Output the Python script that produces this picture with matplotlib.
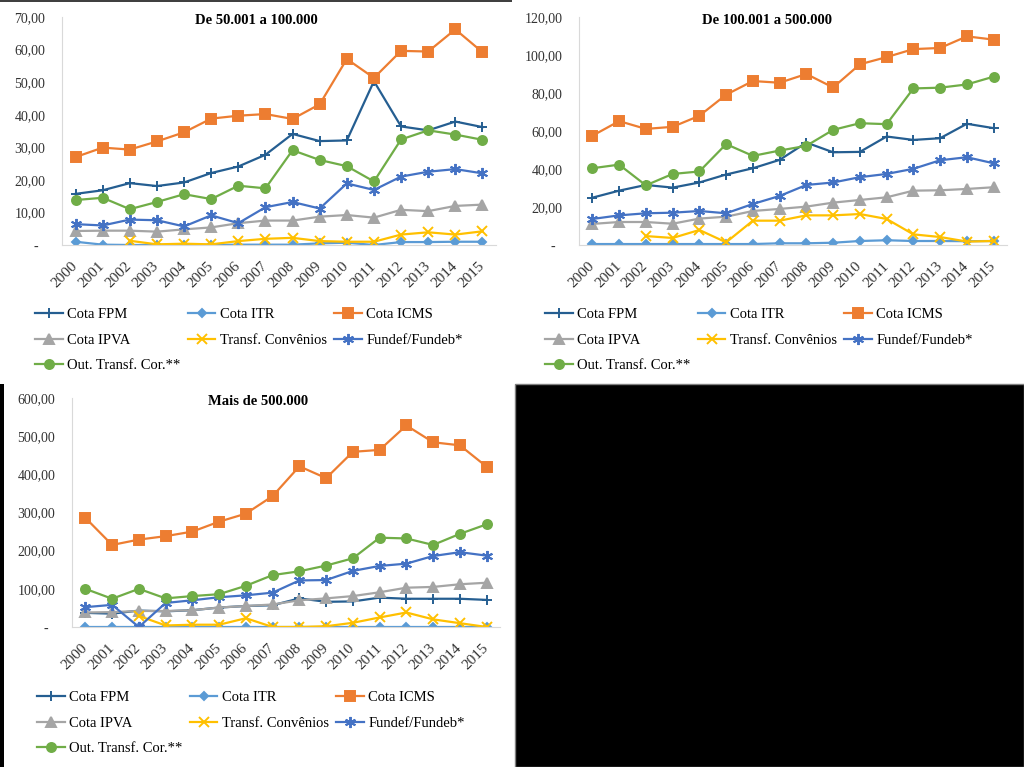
import numpy as np
import matplotlib
matplotlib.use('Agg')
import matplotlib.pyplot as plt
from matplotlib.patches import Rectangle

plt.rcParams['font.family'] = ['Liberation Serif', 'DejaVu Serif']

nan = np.nan
anos = ["2000", "2001", "2002", "2003", "2004", "2005", "2006", "2007",
        "2008", "2009", "2010", "2011", "2012", "2013", "2014", "2015"]

# --- De 50.001 a 100.000 ---
fpm_1 = [15.7, 16.8, 19.0, 18.1, 19.2, 22.1, 24.1, 27.7, 34.1, 31.9, 32.1, 50.3, 36.4, 35.2, 37.9, 36.2]
itr_1 = [1.0, 0.1, 0.0, 0.0, 0.0, 0.0, 0.1, 0.1, 0.1, 0.5, 0.7, 0.0, 0.9, 0.9, 1.0, 1.0]
icms_1 = [27.0, 29.9, 29.3, 31.8, 34.6, 38.8, 39.7, 40.2, 38.7, 43.2, 57.1, 51.3, 59.6, 59.4, 66.2, 59.2]
ipva_1 = [4.3, 4.4, 4.4, 4.1, 4.8, 5.4, 6.7, 7.5, 7.5, 8.7, 9.2, 8.4, 10.8, 10.4, 12.0, 12.4]
conv_1 = [nan, nan, 1.3, 0.2, 0.4, 0.2, 1.2, 1.9, 2.2, 1.2, 1.0, 1.0, 3.2, 3.9, 3.2, 4.2]
fundeb_1 = [6.4, 6.0, 7.8, 7.6, 5.7, 9.1, 6.7, 11.6, 13.2, 11.2, 18.9, 16.9, 21.0, 22.5, 23.3, 22.0]
outras_1 = [13.8, 14.5, 11.0, 13.2, 15.6, 14.1, 18.2, 17.4, 29.1, 26.1, 24.2, 19.5, 32.4, 35.2, 33.9, 32.3]

# --- De 100.001 a 500.000 ---
fpm_2 = [24.9, 28.6, 31.6, 30.2, 32.9, 37.1, 40.4, 44.8, 53.9, 48.8, 49.0, 57.1, 55.3, 56.2, 63.8, 61.5]
itr_2 = [0.5, 0.5, 0.5, 0.5, 0.5, 0.5, 0.5, 0.9, 0.9, 1.2, 2.1, 2.5, 2.1, 2.1, 2.0, 2.1]
icms_2 = [57.5, 65.2, 61.1, 62.2, 68.0, 79.1, 86.3, 85.4, 90.0, 82.9, 95.1, 98.9, 103.1, 103.7, 109.8, 108.1]
ipva_2 = [11.1, 12.1, 12.1, 11.2, 13.9, 14.9, 17.9, 19.0, 20.2, 22.3, 23.7, 25.1, 28.6, 28.8, 29.5, 30.4]
conv_2 = [nan, nan, 4.7, 3.7, 7.9, 1.4, 12.8, 12.8, 15.6, 15.6, 16.3, 13.7, 5.6, 4.2, 1.8, 2.1]
fundeb_2 = [13.7, 15.6, 16.7, 17.0, 17.9, 16.7, 21.6, 25.8, 31.6, 32.9, 35.7, 37.4, 40.1, 44.6, 46.2, 43.0]
outras_2 = [40.4, 42.3, 31.4, 37.4, 38.7, 53.1, 46.9, 49.7, 52.2, 60.6, 64.1, 63.6, 82.4, 82.8, 84.5, 88.6]

# --- Mais de 500.000 ---
fpm_3 = [37, 35, 43, 41, 44, 51, 55, 57, 75, 66, 67, 77, 74, 74, 74, 71]
itr_3 = [0.8, 0.8, 0.8, 0.8, 0.8, 0.8, 0.8, 0.8, 0.8, 0.8, 0.8, 0.8, 0.8, 0.8, 0.8, 0.8]
icms_3 = [286, 215, 229, 238, 250, 276, 297, 343, 421, 390, 459, 464, 528, 484, 476, 420]
ipva_3 = [38, 39, 42, 42, 44, 51, 55, 59, 70, 75, 81, 91, 103, 105, 112, 116]
conv_3 = [nan, nan, 29, 4, 6, 6, 23, 0, 0, 2, 11, 25, 38, 20, 10, 0]
fundeb_3 = [52, 58, 0, 63, 70, 78, 83, 90, 122, 123, 147, 160, 166, 186, 196, 187]
outras_3 = [100, 74, 100, 75, 81, 86, 108, 136, 146, 161, 180, 234, 232, 215, 244, 269]

rotulos = ["Cota FPM", "Cota ITR", "Cota ICMS", "Cota IPVA",
           "Transf. Convênios", "Fundef/Fundeb*", "Out. Transf. Cor.**"]
cores = ["#255E91", "#5B9BD5", "#ED7D31", "#A5A5A5", "#FFC000", "#4472C4", "#70AD47"]
marcadores = ["+", "D", "s", "^", "x", (6, 2, 0), "o"]
tamanhos = [7, 4.5, 6.5, 6.5, 6.5, 8, 6.5]

W, H = 1024, 767
fig = plt.figure(figsize=(W / 100, H / 100), dpi=100)
fig.patch.set_facecolor('white')


def rect(x0, y0, x1, y1):
    return [x0 / W, 1 - y1 / H, (x1 - x0) / W, (y1 - y0) / H]


def fmt(v):
    if v == 0:
        return "-  "
    return f"{v:.2f}".replace('.', ',')


def painel(pos, dados, ymax, passo, titulo, tx, ty, leg_x, leg_y):
    ax = fig.add_axes(rect(*pos))
    linhas = []
    for vals, lab, c, m, ms in zip(dados, rotulos, cores, marcadores, tamanhos):
        ln, = ax.plot(anos, vals, color=c, lw=1.6, marker=m, ms=ms,
                      mfc=c, mec=c, mew=1.4, label=lab)
        linhas.append(ln)
    ax.set_xlim(-0.5, len(anos) - 0.5)
    ax.set_ylim(0, ymax)
    ticks = np.arange(0, ymax + passo / 2, passo)
    ax.set_yticks(ticks)
    ax.set_yticklabels([fmt(t) for t in ticks])
    for s in ['top', 'right']:
        ax.spines[s].set_visible(False)
    for s in ['left', 'bottom']:
        ax.spines[s].set_color('#D9D9D9')
        ax.spines[s].set_linewidth(0.8)
    ax.tick_params(axis='y', length=0, pad=12, labelsize=10, labelcolor='#333333')
    ax.tick_params(axis='x', length=0, pad=14, labelsize=11, labelcolor='#333333')
    for lbl in ax.get_xticklabels():
        lbl.set_rotation(45)
        lbl.set_ha('right')
        lbl.set_va('center')
        lbl.set_rotation_mode('anchor')
    fig.text(tx / W, 1 - ty / H, titulo, ha='center', va='center',
             fontsize=10.5, fontweight='bold')
    # column-major order so the legend reads row by row
    ordem = [0, 3, 6, 1, 4, 2, 5]
    ax.legend([linhas[i] for i in ordem], [rotulos[i] for i in ordem],
              ncol=3, loc='upper left', bbox_to_anchor=(leg_x / W, 1 - leg_y / H),
              bbox_transform=fig.transFigure, frameon=False, fontsize=10.5,
              borderpad=0, borderaxespad=0, handlelength=1.9, handletextpad=0.3,
              columnspacing=0.5, labelspacing=0.85)
    return ax


painel((62, 17, 496, 245), [fpm_1, itr_1, icms_1, ipva_1, conv_1, fundeb_1, outras_1],
       70, 10, "De 50.001 a 100.000", 256, 21, 35, 308)
painel((579, 17, 1007, 245), [fpm_2, itr_2, icms_2, ipva_2, conv_2, fundeb_2, outras_2],
       120, 20, "De 100.001 a 500.000", 767, 21, 545, 308)
painel((72, 398, 500, 627), [fpm_3, itr_3, icms_3, ipva_3, conv_3, fundeb_3, outras_3],
       600, 100, "Mais de 500.000", 258, 402, 37, 691)

# page background pieces around the charts
fig.add_artist(Rectangle((515 / W, 0), 1 - 515 / W, 1 - 384 / H, transform=fig.transFigure,
                         facecolor='black', edgecolor='#808080', lw=1))
fig.add_artist(Rectangle((0, 0), 4 / W, 1 - 384 / H, transform=fig.transFigure,
                         facecolor='black', edgecolor='none'))
fig.add_artist(Rectangle((0, 1 - 2 / H), 512 / W, 2 / H, transform=fig.transFigure,
                         facecolor='#404040', edgecolor='none'))

fig.savefig('out.png', dpi=100)
